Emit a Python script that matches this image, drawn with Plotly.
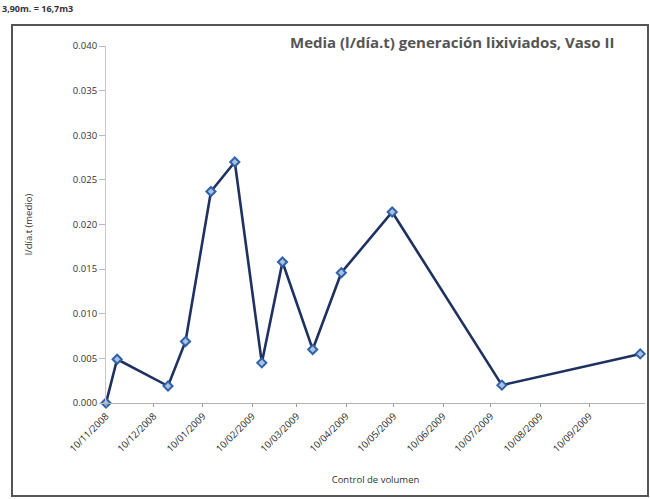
import plotly.graph_objects as go

# Measurement dates (control de volumen) and mean leachate generation (l/día.t)
fechas = [
    "2008-11-10", "2008-11-17", "2008-12-19", "2008-12-30", "2009-01-15",
    "2009-01-30", "2009-02-16", "2009-03-01", "2009-03-20", "2009-04-07",
    "2009-05-09", "2009-07-17", "2009-10-12",
]
media = [
    0.0000, 0.0049, 0.0019, 0.0069, 0.0237,
    0.0270, 0.0045, 0.0158, 0.0060, 0.0146,
    0.0214, 0.0020, 0.0055,
]
x_ticks = [
    "2008-11-10", "2008-12-10", "2009-01-10", "2009-02-10", "2009-03-10",
    "2009-04-10", "2009-05-10", "2009-06-10", "2009-07-10", "2009-08-10",
    "2009-09-10",
]
y_ticks = [0.000, 0.005, 0.010, 0.015, 0.020, 0.025, 0.030, 0.035, 0.040]

W, H = 650, 499
L, R, T, B = 106, 5, 46, 96
pw, ph = W - L - R, H - T - B


def px(x):
    return (x - L) / pw


def py(y):
    return (H - B - y) / ph


fig = go.Figure()
fig.add_trace(go.Scatter(
    x=fechas, y=media, mode="lines+markers",
    line=dict(color="#1e3160", width=2.6),
    marker=dict(symbol="diamond", size=7, color="#a9c1e2",
                line=dict(color="#2f62a8", width=2)),
    cliponaxis=False, showlegend=False,
))

fig.update_layout(
    width=W, height=H,
    margin=dict(l=L, r=R, t=T, b=B),
    paper_bgcolor="white", plot_bgcolor="white",
    font=dict(family="Open Sans", color="#444"),
    xaxis=dict(
        type="date", range=["2008-11-10", "2009-10-15"],
        tickvals=x_ticks, tickformat="%d/%m/%Y",
        tickangle=-45, tickfont=dict(size=9.5, color="#2a2a2a"),
        showgrid=False, zeroline=False,
        showline=True, linecolor="#b0b0b0", linewidth=1,
        ticks="outside", ticklen=3, tickcolor="#999",
        title=dict(text="Control de volumen", font=dict(size=9.5, color="#333"),
                   standoff=22),
    ),
    yaxis=dict(
        range=[0, 0.040], tickvals=y_ticks,
        tickformat=".3f", tickfont=dict(size=9.5, color="#333"),
        showgrid=False, zeroline=False,
        showline=True, linecolor="#c8c8c8", linewidth=1,
        ticks="outside", ticklen=6, tickcolor="#bbb",
        title=dict(text="l/día.t (medio)", font=dict(size=9.5, color="#333"),
                   standoff=38),
    ),
    shapes=[dict(
        type="rect", xref="paper", yref="paper",
        x0=px(12), x1=px(648), y0=py(496), y1=py(25),
        line=dict(color="#555", width=2), fillcolor="rgba(0,0,0,0)",
        layer="below",
    )],
    annotations=[
        dict(text="<b>Media (l/día.t) generación lixiviados, Vaso II</b>",
             xref="paper", yref="paper", x=px(452), y=py(42),
             xanchor="center", yanchor="middle", showarrow=False,
             font=dict(size=15, color="#555")),
        dict(text="<b>3,90m. = 16,7m3</b>",
             xref="paper", yref="paper", x=px(0), y=py(9),
             xanchor="left", yanchor="middle", showarrow=False,
             font=dict(size=9, color="#333")),
    ],
)

fig.write_html("out.html")
